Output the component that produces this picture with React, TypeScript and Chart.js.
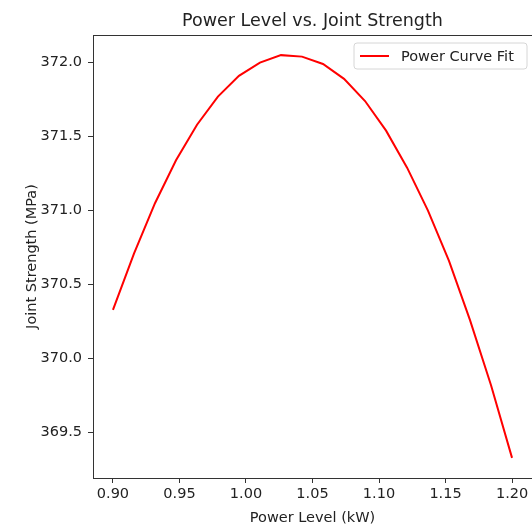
import React, { useEffect, useRef } from "react";
import { Chart, registerables } from "chart.js";

Chart.register(...registerables);

const powerLevels = [
  0.9, 0.9158, 0.9316, 0.9474, 0.9632, 0.9789, 0.9947, 1.0105, 1.0263, 1.0421,
  1.0579, 1.0737, 1.0895, 1.1053, 1.1211, 1.1368, 1.1526, 1.1684, 1.1842, 1.2,
];
const jointStrength = [
  370.33, 370.71, 371.05, 371.34, 371.58, 371.77, 371.91, 372.0, 372.05, 372.04,
  371.99, 371.89, 371.74, 371.54, 371.29, 371.0, 370.66, 370.26, 369.82, 369.33,
];
const xTicks = [0.9, 0.95, 1.0, 1.05, 1.1, 1.15, 1.2];
const yTicks = [369.5, 370.0, 370.5, 371.0, 371.5, 372.0];

const titleText = "Power Level vs. Joint Strength";
const xLabel = "Power Level (kW)";
const yLabel = "Joint Strength (MPa)";
const legendLabel = "Power Curve Fit";

const FONT = "'DejaVu Sans', sans-serif";
const TEXT = "#222";
const AXIS = "#333";

const decorPlugin = {
  id: "decor",
  afterDraw(chart: any) {
    const { ctx, chartArea } = chart;
    const { left, right, top, bottom } = chartArea;
    ctx.save();
    // top spine
    ctx.strokeStyle = AXIS;
    ctx.lineWidth = 1;
    ctx.beginPath();
    ctx.moveTo(left, top + 0.5);
    ctx.lineTo(right, top + 0.5);
    ctx.stroke();

    // title
    ctx.fillStyle = TEXT;
    ctx.font = `17.5px ${FONT}`;
    ctx.textAlign = "center";
    ctx.textBaseline = "alphabetic";
    ctx.fillText(titleText, (left + right) / 2, 26);

    // x label
    ctx.font = `14.5px ${FONT}`;
    ctx.fillText(xLabel, (left + right) / 2, 522);

    // y label
    ctx.save();
    ctx.translate(36, (top + bottom) / 2);
    ctx.rotate(-Math.PI / 2);
    ctx.fillText(yLabel, 0, 0);
    ctx.restore();

    // legend
    const bx = 354, by = 43, bw = 173, bh = 26, r = 3;
    ctx.beginPath();
    ctx.moveTo(bx + r, by);
    ctx.lineTo(bx + bw - r, by);
    ctx.quadraticCurveTo(bx + bw, by, bx + bw, by + r);
    ctx.lineTo(bx + bw, by + bh - r);
    ctx.quadraticCurveTo(bx + bw, by + bh, bx + bw - r, by + bh);
    ctx.lineTo(bx + r, by + bh);
    ctx.quadraticCurveTo(bx, by + bh, bx, by + bh - r);
    ctx.lineTo(bx, by + r);
    ctx.quadraticCurveTo(bx, by, bx + r, by);
    ctx.closePath();
    ctx.fillStyle = "rgba(255,255,255,0.8)";
    ctx.fill();
    ctx.strokeStyle = "#d6d6d6";
    ctx.lineWidth = 1;
    ctx.stroke();

    ctx.strokeStyle = "red";
    ctx.lineWidth = 2;
    ctx.beginPath();
    ctx.moveTo(360, 56);
    ctx.lineTo(389, 56);
    ctx.stroke();

    ctx.fillStyle = TEXT;
    ctx.textAlign = "left";
    ctx.font = `14.5px ${FONT}`;
    ctx.fillText(legendLabel, 401, 61);
    ctx.restore();
  },
};

export default function App() {
  const canvasRef = useRef<HTMLCanvasElement | null>(null);

  useEffect(() => {
    const canvas = canvasRef.current;
    if (!canvas) return;
    const chart = new Chart(canvas, {
      type: "line",
      data: {
        datasets: [
          {
            label: legendLabel,
            data: powerLevels.map((x, i) => ({ x, y: jointStrength[i] })),
            borderColor: "red",
            backgroundColor: "red",
            borderWidth: 2,
            pointRadius: 0,
            tension: 0,
            fill: false,
          },
        ],
      },
      options: {
        animation: false,
        responsive: false,
        devicePixelRatio: 1,
        layout: { padding: { top: 35, left: 0, right: 0, bottom: 0 } },
        plugins: {
          legend: { display: false },
          title: { display: false },
          tooltip: { enabled: false },
        },
        scales: {
          x: {
            type: "linear",
            min: 0.885,
            max: 1.215,
            afterBuildTicks: (s: any) => {
              s.ticks = xTicks.map((v) => ({ value: v }));
            },
            afterFit: (s: any) => {
              s.height = 48;
            },
            grid: {
              display: true,
              drawOnChartArea: false,
              drawTicks: true,
              tickLength: 5,
              color: AXIS,
            },
            border: { display: true, color: AXIS, width: 1 },
            ticks: {
              padding: 3,
              color: TEXT,
              maxRotation: 0,
              autoSkip: false,
              font: { family: FONT, size: 14.5 },
              callback: (v: any) => Number(v).toFixed(2),
            },
          },
          y: {
            type: "linear",
            min: 369.194,
            max: 372.186,
            afterBuildTicks: (s: any) => {
              s.ticks = yTicks.map((v) => ({ value: v }));
            },
            afterFit: (s: any) => {
              s.width = 93;
            },
            grid: {
              display: true,
              drawOnChartArea: false,
              drawTicks: true,
              tickLength: 5,
              color: AXIS,
            },
            border: { display: true, color: AXIS, width: 1 },
            ticks: {
              padding: 6,
              color: TEXT,
              autoSkip: false,
              font: { family: FONT, size: 14.5 },
              callback: (v: any) => Number(v).toFixed(1),
            },
          },
        },
      },
      plugins: [decorPlugin],
    });
    return () => chart.destroy();
  }, []);

  return (
    <div style={{ position: "fixed", left: 0, top: 0, width: 532, height: 526, background: "#fff" }}>
      <canvas ref={canvasRef} width={532} height={526} style={{ display: "block" }} />
    </div>
  );
}
